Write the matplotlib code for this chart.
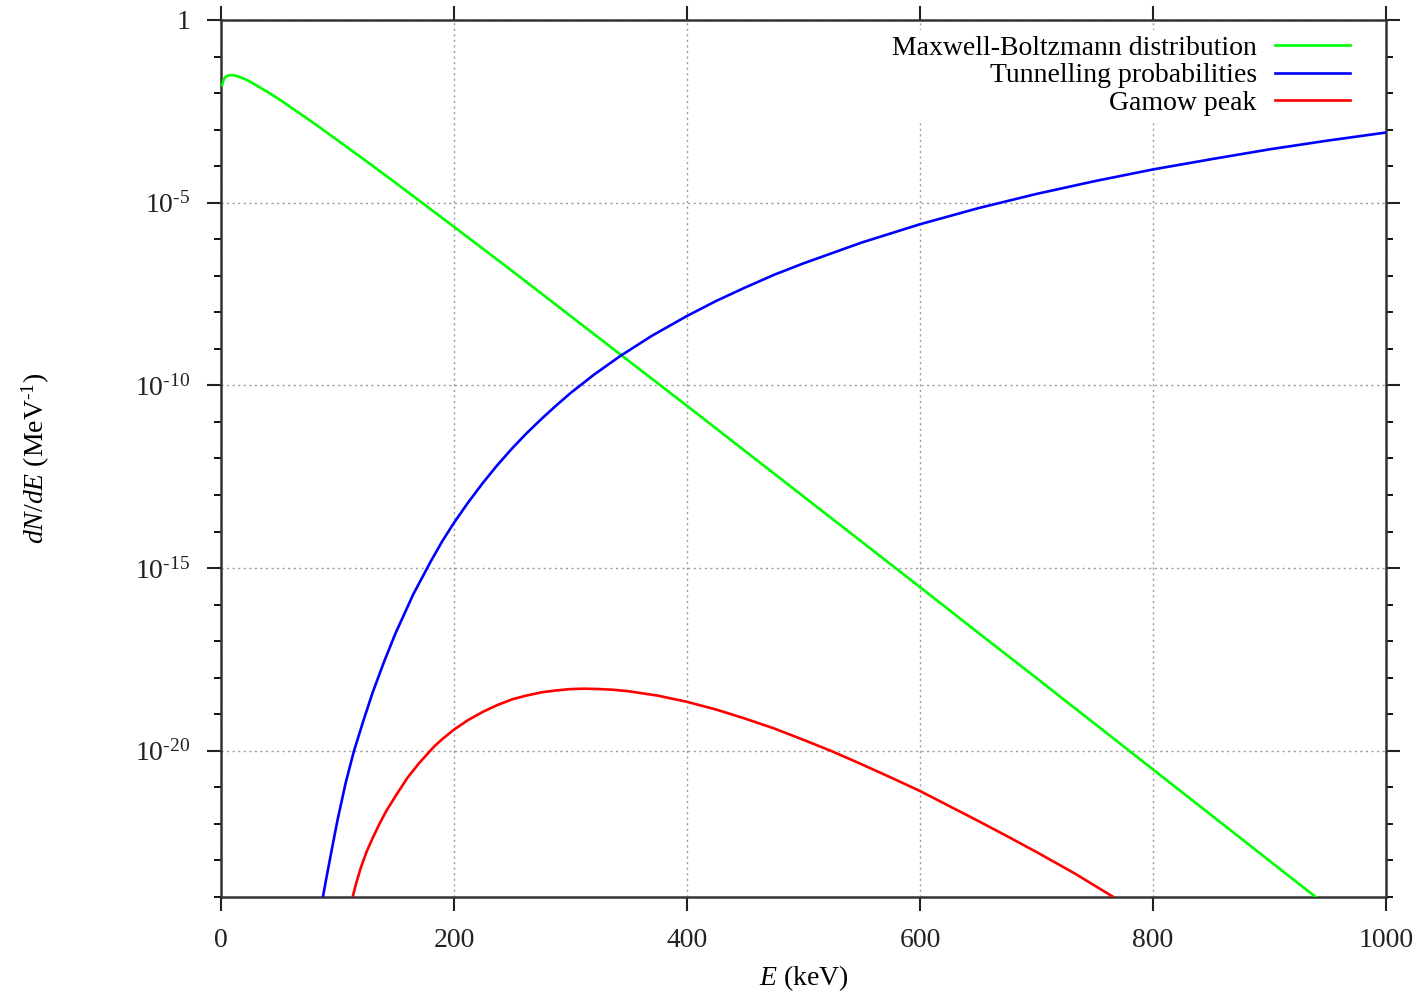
import numpy as np
import matplotlib
matplotlib.use('Agg')
import matplotlib.pyplot as plt
from matplotlib.ticker import FixedLocator, FixedFormatter, NullFormatter

# --- Fuentes tipo gnuplot (Times) ---------------------------------------------
plt.rcParams['font.family'] = ['Liberation Serif', 'DejaVu Serif']
plt.rcParams['mathtext.fontset'] = 'custom'
plt.rcParams['mathtext.rm'] = 'Liberation Serif'
plt.rcParams['mathtext.it'] = 'Liberation Serif:italic'
plt.rcParams['mathtext.default'] = 'rm'

# --- Datos (E en keV, log10 de dN/dE) -----------------------------------------
E_mb = [1, 2, 3, 4, 6, 8, 10, 12, 15, 20, 25, 30, 40, 50, 60, 80, 100, 125, 150, 175, 200,
        250, 300, 350, 400, 450, 500, 550, 600, 650, 700, 750, 800, 850, 900, 940]
log_mb = [-1.785, -1.66, -1.597, -1.56, -1.52, -1.51, -1.51, -1.52, -1.55, -1.61, -1.69,
          -1.78, -1.97, -2.17, -2.39, -2.83, -3.29, -3.87, -4.46, -5.06, -5.66,
          -6.87, -8.10, -9.33, -10.56, -11.80, -13.04, -14.28, -15.52, -16.77, -18.01,
          -19.26, -20.51, -21.76, -23.01, -24.01]

E_tun = [87.5, 90, 95, 100, 107, 114, 122, 130, 140, 150, 165, 180, 190, 200, 212, 225, 237,
         250, 262, 275, 287, 300, 320, 343, 370, 400, 425, 450, 475, 500, 550, 600, 650,
         700, 750, 800, 850, 900, 950, 1000]
log_tun = [-24.0, -23.56, -22.72, -21.9, -20.88, -20.02, -19.2, -18.42, -17.56, -16.77, -15.72,
           -14.82, -14.26, -13.76, -13.21, -12.66, -12.19, -11.72, -11.32, -10.92, -10.57,
           -10.21, -9.71, -9.19, -8.64, -8.10, -7.69, -7.32, -6.97, -6.66, -6.09, -5.59,
           -5.15, -4.76, -4.41, -4.09, -3.81, -3.54, -3.30, -3.08]

E_gam = [113, 116, 120, 125, 130, 136, 142, 150, 160, 170, 183, 190, 200, 212, 225, 237, 250,
         262, 275, 287, 300, 312, 325, 337, 350, 375, 400, 425, 450, 475, 500, 525, 550,
         575, 600, 625, 650, 675, 700, 733, 766]
log_gam = [-24.0, -23.63, -23.2, -22.76, -22.40, -22.0, -21.64, -21.23, -20.74, -20.34, -19.88,
           -19.68, -19.42, -19.16, -18.93, -18.75, -18.59, -18.49, -18.40, -18.35, -18.31,
           -18.30, -18.31, -18.33, -18.37, -18.49, -18.66, -18.87, -19.12, -19.39, -19.70,
           -20.02, -20.37, -20.73, -21.10, -21.51, -21.92, -22.34, -22.77, -23.36, -24.0]

labels = ['Maxwell-Boltzmann distribution', 'Tunnelling probabilities', 'Gamow peak']
colores = ['#00ff00', '#0000ff', '#ff0000']

y_major = [1e0, 1e-5, 1e-10, 1e-15, 1e-20]
y_major_lbl = ['1', r'$10^{\text{-}5}$', r'$10^{\text{-}10}$', r'$10^{\text{-}15}$', r'$10^{\text{-}20}$']
x_major = [0, 200, 400, 600, 800, 1000]

# --- Grafico ------------------------------------------------------------------
fig = plt.figure(figsize=(14.22, 9.94), dpi=100)
ax = fig.add_axes([0.1554, 0.0976, 0.8193, 0.8823])

series = [(E_mb, log_mb), (E_tun, log_tun), (E_gam, log_gam)]
for (e, lg), lab, col in zip(series, labels, colores):
    ax.plot(e, 10.0 ** np.array(lg), color=col, lw=1.9, label=lab, zorder=3)

ax.set_yscale('log')
ax.set_xlim(0, 1000)
ax.set_ylim(1e-24, 1)

ax.xaxis.set_major_locator(FixedLocator(x_major))
ax.yaxis.set_major_locator(FixedLocator(y_major))
ax.yaxis.set_major_formatter(FixedFormatter(y_major_lbl))
ax.yaxis.set_minor_locator(FixedLocator([10.0 ** -k for k in range(0, 25)]))
ax.yaxis.set_minor_formatter(NullFormatter())

ax.tick_params(axis='both', which='major', direction='out', length=10, width=1.5,
               top=True, right=True, labelsize=20, pad=12, colors='#222222')
ax.tick_params(axis='y', which='minor', direction='out', length=5, width=1.3, right=True)

for s in ax.spines.values():
    s.set_linewidth(1.8)
    s.set_color('#333333')

ax.grid(True, which='major', linestyle=(0, (1.5, 2.5)), color='#9a9a9a', lw=1.0, zorder=1)

ax.set_xlabel(r'$\mathit{E}$ (keV)', fontsize=20, labelpad=8)
ax.set_ylabel(r'$\mathit{dN/dE}$ (MeV$^{\text{-}1}$)', fontsize=20, labelpad=60)

# leyenda sin borde, con fondo blanco que tapa la grilla
leg = ax.legend(loc='upper right', bbox_to_anchor=(0.9737, 0.989), borderaxespad=0,
                borderpad=0.2, fontsize=20, markerfirst=False, frameon=True, fancybox=False,
                framealpha=1.0, edgecolor='white', handlelength=2.7,
                handletextpad=0.65, labelspacing=0.08)
leg.set_zorder(5)

fig.savefig('out.png', dpi=100)
